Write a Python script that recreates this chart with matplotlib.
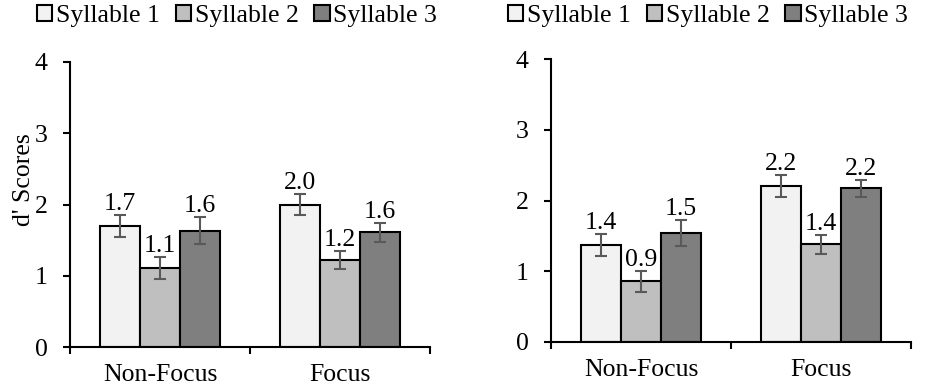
import numpy as np
import matplotlib.pyplot as plt

plt.rcParams['font.family'] = ['Liberation Serif', 'DejaVu Serif']
plt.rcParams['font.size'] = 18.5

categories = ["Non-Focus", "Focus"]
series = ["Syllable 1", "Syllable 2", "Syllable 3"]
colors = ["#f2f2f2", "#bfbfbf", "#7f7f7f"]

# left panel
left_means = [[1.70, 2.00],   # Syllable 1
              [1.11, 1.22],   # Syllable 2
              [1.63, 1.61]]   # Syllable 3
left_err = [[0.15, 0.15],
            [0.15, 0.13],
            [0.19, 0.13]]

# right panel
right_means = [[1.37, 2.20],
               [0.86, 1.38],
               [1.54, 2.17]]
right_err = [[0.15, 0.155],
             [0.15, 0.13],
             [0.19, 0.12]]

fig = plt.figure(figsize=(9.29, 3.91), dpi=100)
ax1 = fig.add_axes([70/929, 1-347/391, 360/929, 285/391])
ax2 = fig.add_axes([551/929, 1-342/391, 360/929, 283/391])

width = 0.222
x = np.arange(len(categories))


def draw(ax, means, errs, legend_x):
    handles = []
    for i, (m, e) in enumerate(zip(means, errs)):
        pos = x + (i - 1) * width
        b = ax.bar(pos, m, width, color=colors[i], edgecolor="black",
                   linewidth=1.5, label=series[i], zorder=2)
        ax.errorbar(pos, m, yerr=e, fmt="none", ecolor="#595959",
                    elinewidth=1.5, capsize=4, capthick=1.5, zorder=3)
        for p, v, ee in zip(pos, m, e):
            ax.annotate(f"{v:.1f}", (p, v + ee), xytext=(0, 0),
                        textcoords="offset points", ha="center", va="bottom")
        handles.append(b)
    ax.set_ylim(0, 4)
    ax.set_yticks([0, 1, 2, 3, 4])
    ax.set_xlim(-0.5, 1.5)
    ax.set_xticks(x)
    ax.set_xticklabels(categories)
    ax.set_xticks([-0.5, 0.5, 1.5], minor=True)
    ax.tick_params(axis="x", which="major", length=0, pad=12)
    ax.tick_params(axis="x", which="minor", length=5, width=1.5, direction="out")
    ax.tick_params(axis="y", length=5, width=1.5, direction="out", pad=11)
    for s in ["top", "right"]:
        ax.spines[s].set_visible(False)
    for s in ["left", "bottom"]:
        ax.spines[s].set_linewidth(1.5)
    ax.legend(handles=handles, loc="upper left", ncol=3, frameon=False,
              handlelength=0.6, handleheight=0.6, handletextpad=0.15,
              columnspacing=0.6, borderpad=0, borderaxespad=0,
              bbox_to_anchor=(legend_x / 929, 1 - 5 / 391),
              bbox_transform=fig.transFigure)


draw(ax1, left_means, left_err, 37)
draw(ax2, right_means, right_err, 508)

fig.text(24/929, 1-180/391, "d' Scores", rotation=90, ha="center", va="center")

fig.savefig("out.png", dpi=100)
